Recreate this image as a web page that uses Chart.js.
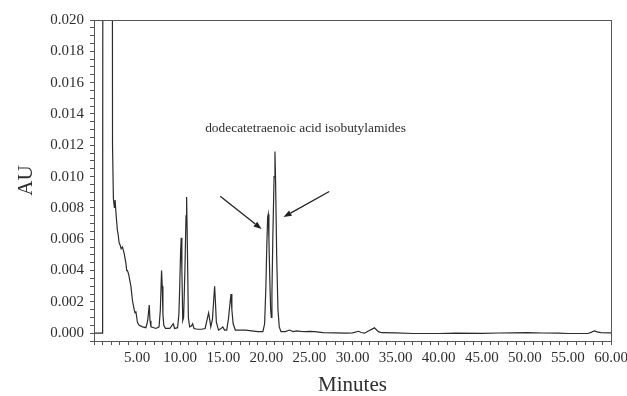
<!DOCTYPE html>
<html>
<head>
<meta charset="utf-8">
<script src="https://cdn.jsdelivr.net/npm/chart.js@4.4.0/dist/chart.umd.min.js"></script>
<style>
  body { margin: 0; background: #fff; }
  #wrap { width: 627px; height: 396px; }
</style>
</head>
<body>
<div id="wrap"><canvas id="chromatogram" width="627" height="396"></canvas></div>
<script>
// retention time (min) and absorbance (AU)
var minutes = [
  0, 0.5, 1.0, 1.02, 1.06, 2.08, 2.15, 2.25, 2.37, 2.45, 2.56, 2.71, 2.8, 2.91, 3.05, 3.15, 3.3, 3.5,
  3.69, 3.8, 3.88, 4.0, 4.08, 4.28, 4.46, 4.66, 4.76, 4.86, 5.04, 5.24, 5.63, 6.02, 6.15, 6.25, 6.41,
  6.5, 6.61, 7.19, 7.55, 7.7, 7.84, 7.92, 8.0, 8.1, 8.3, 8.8, 9.05, 9.2, 9.35, 9.7, 9.85, 9.95, 10.05,
  10.12, 10.2, 10.3, 10.4, 10.55, 10.68, 10.75, 10.85, 10.95, 11.1, 11.3, 11.45, 11.6, 12.0, 12.5,
  12.9, 13.1, 13.3, 13.45, 13.55, 13.75, 13.9, 14.0, 14.1, 14.2, 14.45, 14.75, 14.95, 15.15, 15.4,
  15.6, 15.8, 15.9, 16.0, 16.15, 16.4, 17.0, 17.6, 18.3, 19.0, 19.6, 19.8, 19.95, 20.05, 20.15, 20.22,
  20.3, 20.4, 20.5, 20.58, 20.65, 20.75, 20.9, 21.0, 21.08, 21.2, 21.35, 21.5, 21.7, 22.2, 22.7, 23.1,
  23.5, 24.0, 24.6, 25.0, 25.6, 26.6, 28.0, 29.3, 30.0, 30.7, 31.0, 31.4, 31.9, 32.55, 33.0, 33.4,
  35.0, 37.0, 40.0, 42.0, 45.0, 47.0, 50.3, 52.0, 54.0, 55.0, 57.3, 57.7, 58.05, 58.4, 58.8, 60.0
];
var absorbance = [
  0, 0, 0, 0, 0.06, 0.06, 0.012, 0.0086, 0.008, 0.0085, 0.0076, 0.0066, 0.0063, 0.0058, 0.0056, 0.0054, 0.0055, 0.0051,
  0.0045, 0.004, 0.004, 0.0038, 0.0036, 0.003, 0.0021, 0.0015, 0.0013, 0.0014, 0.0007, 0.0005, 0.0004, 0.00035, 0.0006, 0.0009, 0.0018,
  0.0008, 0.0004, 0.0003, 0.0004, 0.0015, 0.004, 0.003, 0.0012, 0.0005, 0.0003, 0.0003, 0.0005, 0.0006, 0.0003, 0.00035, 0.0012, 0.003, 0.0052,
  0.0061, 0.004, 0.0008, 0.001, 0.004, 0.0075, 0.0087, 0.005, 0.001, 0.0004, 0.00045, 0.0006, 0.0003, 0.00025, 0.00025,
  0.0003, 0.0008, 0.0013, 0.0008, 0.0004, 0.0009, 0.0022, 0.003, 0.0019, 0.0007, 0.0002, 0.0003, 0.0004, 0.0002, 0.0002,
  0.0009, 0.002, 0.0025, 0.0015, 0.0006, 0.0002, 0.0002, 0.0002, 0.00015, 0.0001, 0.0001, 0.0006, 0.003, 0.0055, 0.0074, 0.0076,
  0.006, 0.0035, 0.0015, 0.001, 0.0025, 0.006, 0.01, 0.0116, 0.0095, 0.005, 0.0015, 0.0004, 0.0001, 0.0001, 0.0002, 0.0001,
  0.00015, 0.00012, 0.0001, 0.00012, 0.0001, 0.00003, 0.00002, 0, 0.00002, 0.00012, 0.00004, 0, 0.00015, 0.00034, 0.0001, 0.00003,
  0.00002, -0.00002, -0.00002, 0, -0.00001, 0.00001, 0.00003, 0.00001, 0, -0.00002, -0.00002, 0.00005, 0.00015, 0.00008, 0.00003, 0.00002
];

var peakLabel = "dodecatetraenoic acid isobutylamides";
// label anchor and arrows, in data units (min, AU)
var labelAt = [12.9, 0.0131];
var arrows = [
  [[14.65, 0.00874], [19.45, 0.00665]],
  [[27.3, 0.00905], [22.0, 0.00742]]
];

var points = minutes.map(function(t, i) { return { x: t, y: absorbance[i] }; });

var serif = "'Liberation Serif', 'DejaVu Serif', serif";
var ink = "#2e2e2e";
var axisGray = "#555";

var framePlugin = {
  id: "frame",
  afterDraw: function(chart) {
    var a = chart.chartArea, ctx = chart.ctx;
    ctx.save();
    ctx.strokeStyle = axisGray;
    ctx.lineWidth = 1;
    ctx.strokeRect(a.left + 0.5, a.top + 0.5, a.right - a.left, a.bottom - a.top);
    ctx.restore();
  }
};

var notePlugin = {
  id: "note",
  afterDraw: function(chart) {
    var xs = chart.scales.x, ys = chart.scales.y, ctx = chart.ctx;
    ctx.save();
    ctx.fillStyle = ink;
    ctx.font = "13.4px " + serif;
    ctx.textBaseline = "middle";
    ctx.fillText(peakLabel, xs.getPixelForValue(labelAt[0]), ys.getPixelForValue(labelAt[1]));

    ctx.strokeStyle = "#222";
    ctx.fillStyle = "#222";
    ctx.lineWidth = 1.3;
    arrows.forEach(function(ar) {
      var x1 = xs.getPixelForValue(ar[0][0]), y1 = ys.getPixelForValue(ar[0][1]);
      var x2 = xs.getPixelForValue(ar[1][0]), y2 = ys.getPixelForValue(ar[1][1]);
      var ang = Math.atan2(y2 - y1, x2 - x1);
      var len = 8, half = 3;
      var bx = x2 - len * Math.cos(ang), by = y2 - len * Math.sin(ang);
      ctx.beginPath();
      ctx.moveTo(x1, y1);
      ctx.lineTo(bx, by);
      ctx.stroke();
      ctx.beginPath();
      ctx.moveTo(x2, y2);
      ctx.lineTo(bx + half * Math.sin(ang), by - half * Math.cos(ang));
      ctx.lineTo(bx - half * Math.sin(ang), by + half * Math.cos(ang));
      ctx.closePath();
      ctx.fill();
    });
    ctx.restore();
  }
};

new Chart(document.getElementById("chromatogram"), {
  type: "line",
  data: {
    datasets: [{
      data: points,
      borderColor: "#2b2b2b",
      borderWidth: 1.2,
      pointRadius: 0,
      tension: 0,
      fill: false
    }]
  },
  options: {
    responsive: false,
    animation: false,
    events: [],
    layout: { padding: { top: 20, right: 16, left: 0, bottom: 0 } },
    plugins: {
      legend: { display: false },
      tooltip: { enabled: false }
    },
    scales: {
      x: {
        type: "linear",
        min: 0,
        max: 60,
        afterFit: function(scale) {
          scale.height = 55;
          scale.paddingRight = 0;
        },
        grid: { drawOnChartArea: false, tickLength: 4, color: axisGray },
        border: { color: axisGray },
        ticks: {
          stepSize: 1,
          autoSkip: false,
          maxRotation: 0,
          padding: 4,
          color: ink,
          font: { family: serif, size: 15 },
          callback: function(v) {
            return (v > 0 && v % 5 === 0) ? v.toFixed(2) : "";
          }
        },
        title: {
          display: true,
          text: "Minutes",
          color: ink,
          font: { family: serif, size: 21, lineHeight: 1.0 },
          padding: { top: 0, bottom: 0 }
        }
      },
      y: {
        min: -0.0005,
        max: 0.02,
        afterFit: function(scale) { scale.width = 94; },
        grid: { drawOnChartArea: false, tickLength: 4, color: axisGray },
        border: { color: axisGray },
        ticks: {
          stepSize: 0.0005,
          autoSkip: false,
          padding: 6,
          color: ink,
          font: { family: serif, size: 15 },
          callback: function(v) {
            var k = Math.round(v * 10000);
            return (k >= 0 && k % 20 === 0) ? v.toFixed(3) : "";
          }
        },
        title: {
          display: true,
          text: "AU",
          color: ink,
          font: { family: serif, size: 21, lineHeight: 1.0 },
          padding: { top: 16, bottom: 0 }
        }
      }
    }
  },
  plugins: [framePlugin, notePlugin]
});
</script>
</body>
</html>
